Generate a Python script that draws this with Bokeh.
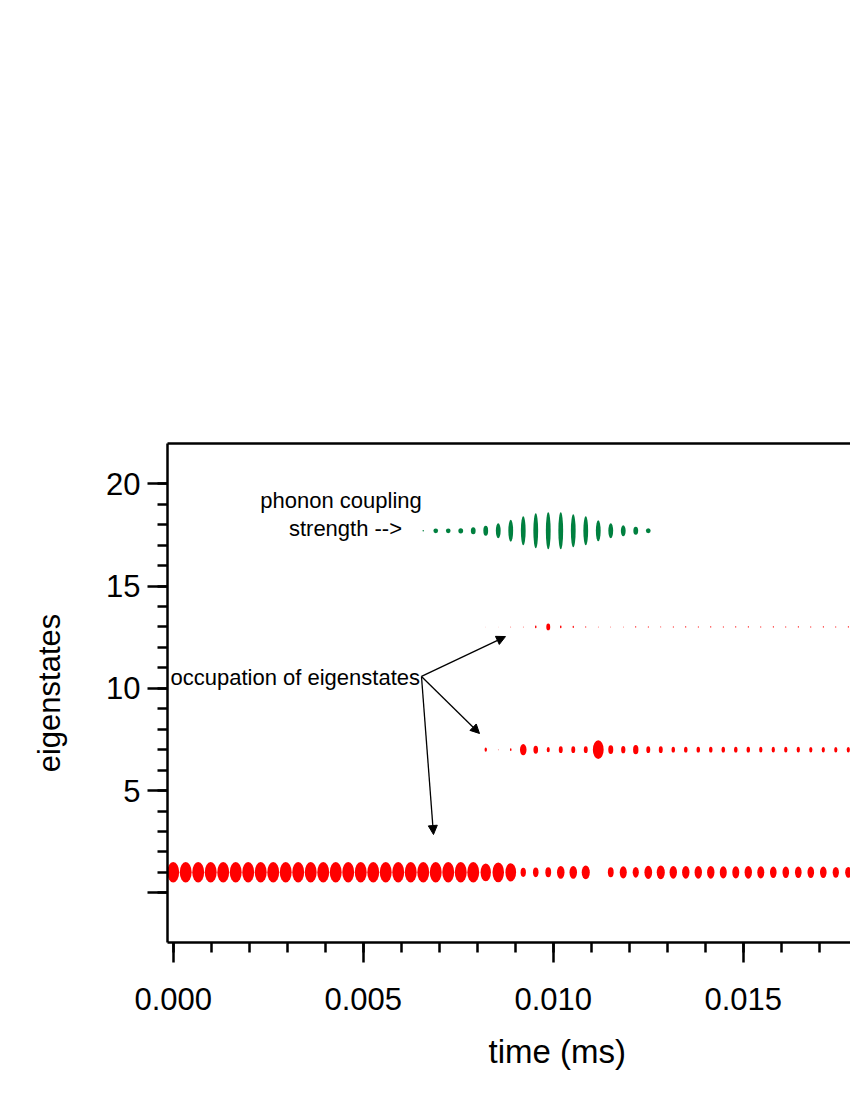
from bokeh.plotting import figure
from bokeh.models import (Range1d, LinearAxis, FixedTicker, PrintfTickFormatter,
                          Label, Arrow, NormalHead, ColumnDataSource, Title)
from bokeh.embed import file_html
from bokeh.resources import INLINE

# ---------------- data ----------------
n_steps = 55
time_step = 0.000329  # ms between samples
time_ms = [round(i * time_step, 6) for i in range(n_steps)]

level_ground = 1
level_mid = 7
level_high = 13
level_coupling = 17.7

occ_ground = [1.0, 1.0, 1.0, 1.0, 1.0, 1.0, 1.0, 1.0, 1.0, 1.0,
              1.0, 1.0, 1.0, 1.0, 1.0, 1.0, 1.0, 1.0, 1.0, 1.0,
              1.0, 1.0, 1.0, 1.0, 1.0, 0.87, 0.97, 0.90, 0.45, 0.47,
              0.49, 0.63, 0.63, 0.68, 0.0, 0.49, 0.59, 0.52, 0.65, 0.68,
              0.62, 0.62, 0.62, 0.62, 0.59, 0.59, 0.62, 0.59, 0.56, 0.56,
              0.56, 0.56, 0.56, 0.53, 0.53]
occ_mid = [0, 0, 0, 0, 0, 0, 0, 0, 0, 0,
           0, 0, 0, 0, 0, 0, 0, 0, 0, 0,
           0, 0, 0, 0, 0, 0.20, 0.05, 0.13, 0.55, 0.39,
           0.26, 0.33, 0.33, 0.33, 0.91, 0.42, 0.36, 0.45, 0.33, 0.33,
           0.29, 0.29, 0.29, 0.29, 0.29, 0.29, 0.29, 0.28, 0.28, 0.28,
           0.28, 0.27, 0.27, 0.27, 0.27]
occ_high = [0, 0, 0, 0, 0, 0, 0, 0, 0, 0,
            0, 0, 0, 0, 0, 0, 0, 0, 0, 0,
            0, 0, 0, 0, 0, 0.03, 0.03, 0.05, 0.05, 0.13,
            0.33, 0.13, 0.11, 0.08, 0.05, 0.05, 0.05, 0.08, 0.08, 0.06,
            0.08, 0.08, 0.08, 0.08, 0.08, 0.08, 0.08, 0.08, 0.08, 0.08,
            0.08, 0.08, 0.08, 0.08, 0.08]
coupling = [0, 0, 0, 0, 0, 0, 0, 0, 0, 0,
            0, 0, 0, 0, 0, 0, 0, 0, 0, 0,
            0.04, 0.127, 0.127, 0.143, 0.19, 0.27, 0.405, 0.595, 0.784, 0.946,
            1.0, 1.0, 0.892, 0.784, 0.568, 0.405, 0.297, 0.216, 0.135, 0,
            0, 0, 0, 0, 0, 0, 0, 0, 0, 0,
            0, 0, 0, 0, 0]

x_major = [0.0, 0.005, 0.010, 0.015]
x_minor = [0.0, 0.001, 0.002, 0.003, 0.004, 0.005, 0.006, 0.007, 0.008, 0.009,
           0.010, 0.011, 0.012, 0.013, 0.014, 0.015, 0.016, 0.017]
y_major = [0, 5, 10, 15, 20]
y_minor = list(range(0, 21))

# annotation anchors (data coordinates)
arrow_start = (0.006534, 10.58)
arrow_ends = [(0.008745, 12.53), (0.008061, 7.79), (0.006850, 2.85)]

# ---------------- sources ----------------
RED_SCALE = 20.5
GREEN_SCALE = 37.0
red = dict(t=[], y=[], w=[], h=[])
for occ, lvl in ((occ_ground, level_ground), (occ_mid, level_mid), (occ_high, level_high)):
    for t, v in zip(time_ms, occ):
        if v > 0:
            h = RED_SCALE * v
            red["t"].append(t); red["y"].append(lvl)
            red["h"].append(h); red["w"].append(0.58 * h)
green = dict(t=[], y=[], w=[], h=[])
for t, v in zip(time_ms, coupling):
    if v > 0:
        h = GREEN_SCALE * v
        green["t"].append(t); green["y"].append(level_coupling)
        green["h"].append(h); green["w"].append(min(4.8, h))

FONT = "Liberation Sans"

p = figure(width=850, height=1092,
           x_range=Range1d(-0.00015, 0.017824), y_range=Range1d(-2.43, 21.97),
           output_backend="svg", toolbar_location=None,
           min_border_left=167, min_border_right=0,
           min_border_top=443, min_border_bottom=150)
p.outline_line_color = None
p.xgrid.visible = False
p.ygrid.visible = False
p.background_fill_color = "white"
p.border_fill_color = "white"

p.ellipse(x="t", y="y", width="w", height="h", width_units="screen",
          height_units="screen", source=ColumnDataSource(red),
          fill_color="#FF0000", line_color=None)
p.ellipse(x="t", y="y", width="w", height="h", width_units="screen",
          height_units="screen", source=ColumnDataSource(green),
          fill_color="#00803F", line_color=None)

for ax in (p.xaxis[0], p.yaxis[0]):
    ax.axis_line_width = 2.5
    ax.axis_line_color = "black"
    ax.major_tick_line_width = 2.5
    ax.minor_tick_line_width = 2.5
    ax.major_tick_line_color = "black"
    ax.minor_tick_line_color = "black"
    ax.major_tick_in = 0
    ax.minor_tick_in = 0
    ax.major_tick_out = 20
    ax.minor_tick_out = 10
    ax.major_label_text_font = FONT
    ax.major_label_text_font_size = "31px"
    ax.major_label_text_color = "black"

xa = p.xaxis[0]
xa.ticker = FixedTicker(ticks=x_major, minor_ticks=x_minor)
xa.formatter = PrintfTickFormatter(format="%.3f")
xa.major_label_standoff = 25

ya = p.yaxis[0]
ya.ticker = FixedTicker(ticks=y_major, minor_ticks=y_minor)
ya.major_label_overrides = {0: ""}
ya.major_label_standoff = 7
ya.axis_label = "eigenstates"
ya.axis_label_text_font = FONT
ya.axis_label_text_font_size = "31px"
ya.axis_label_text_font_style = "normal"
ya.axis_label_text_color = "black"
ya.axis_label_standoff = 36

top = LinearAxis(ticker=FixedTicker(ticks=[]), axis_line_width=2.5,
                 axis_line_color="black", major_tick_out=0, minor_tick_out=0,
                 major_tick_in=0, minor_tick_in=0,
                 major_label_text_font_size="0px")
p.add_layout(top, "above")

# x-axis title (shifted right, as in the original whose frame is wider)
p.add_layout(Title(text="time (ms)", align="left", offset=321, standoff=36,
                   text_font=FONT, text_font_size="33px",
                   text_font_style="normal", text_color="black"), "below")

def lab(x, y, text, size, align):
    p.add_layout(Label(x=x, y=y, text=text, text_font=FONT, text_font_size=size,
                       text_align=align, text_baseline="alphabetic",
                       text_color="black"))

lab(-0.000071, 10.55, "occupation of eigenstates", "22px", "left")
lab(0.004416, 19.18, "phonon coupling", "22px", "center")
lab(0.004534, 17.81, "strength -->", "22px", "center")

for ex, ey in arrow_ends:
    p.add_layout(Arrow(end=NormalHead(size=9, fill_color="black", line_color="black",
                                      line_width=1),
                       x_start=arrow_start[0], y_start=arrow_start[1],
                       x_end=ex, y_end=ey, line_width=1.3, line_color="black"))

open("out.html", "w").write(file_html(p, INLINE))
